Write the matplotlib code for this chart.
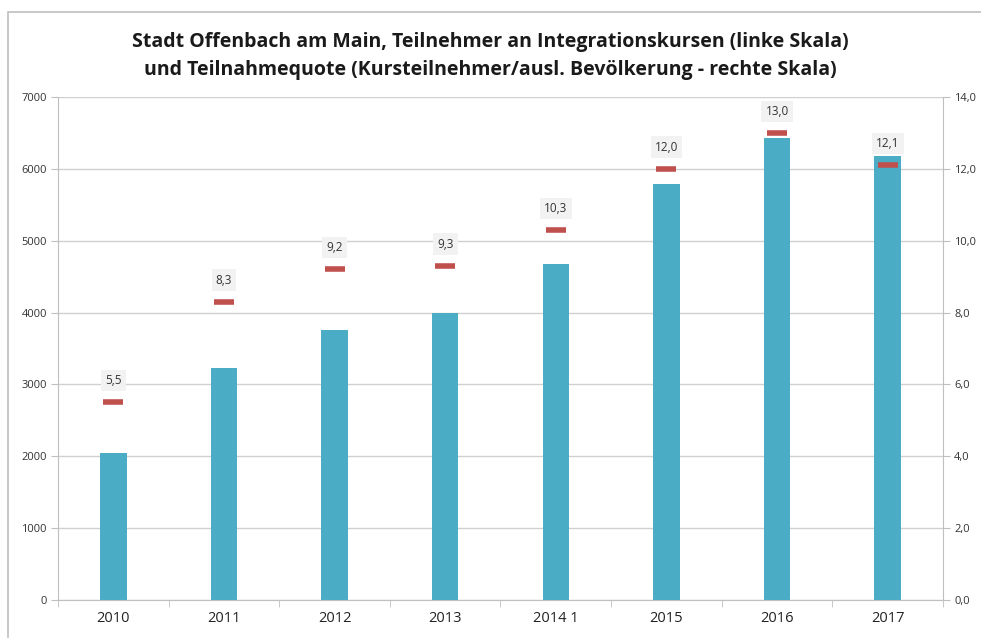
import matplotlib
matplotlib.use("Agg")
import matplotlib.pyplot as plt
from matplotlib.patches import Rectangle
from matplotlib.ticker import FixedLocator, FuncFormatter

categories = ["2010", "2011", "2012", "2013", "2014 1", "2015", "2016", "2017"]
participants = [2040, 3230, 3755, 3995, 4675, 5790, 6430, 6180]
quota = [5.5, 8.3, 9.2, 9.3, 10.3, 12.0, 13.0, 12.1]

plt.rcParams['font.family'] = ['Open Sans', 'DejaVu Sans']

fig = plt.figure(figsize=(9.81, 6.38), dpi=100)
fig.patches.append(Rectangle((8/981, -0.01), 1.0, 1 - 12/638 + 0.01, transform=fig.transFigure,
                             fill=False, edgecolor='#bfbfbf', linewidth=1.2))

ax = fig.add_axes([58/981, 1 - 600/638, (943 - 58)/981, (600 - 97)/638])
x = list(range(len(categories)))
ax.bar(x, participants, width=0.24, color='#4bacc6', zorder=3)
ax.set_xlim(-0.5, len(categories) - 0.5)
ax.set_ylim(0, 7000)
ax.set_yticks(range(0, 7001, 1000))
ax.grid(axis='y', color='#d0d0d0', linewidth=1, zorder=0)
ax.set_axisbelow(True)
for s in ['top', 'right']:
    ax.spines[s].set_visible(False)
ax.spines['left'].set_color('#bfbfbf')
ax.spines['bottom'].set_color('#bfbfbf')
ax.set_xticks(x)
ax.set_xticklabels(categories, fontsize=10.5, color='#222222')
ax.tick_params(axis='x', length=0, pad=8)
ax.xaxis.set_minor_locator(FixedLocator([i + 0.5 for i in range(-1, len(categories))]))
ax.tick_params(axis='x', which='minor', length=5, color='#bfbfbf')
ax.tick_params(axis='y', labelsize=8, colors='#bfbfbf', labelcolor='#333333', length=5, pad=3)

ax2 = ax.twinx()
ax2.set_ylim(0, 14)
ax2.set_yticks([0, 2, 4, 6, 8, 10, 12, 14])
ax2.yaxis.set_major_formatter(FuncFormatter(lambda v, p: f"{v:.1f}".replace('.', ',')))
ax2.tick_params(axis='y', labelsize=8, colors='#bfbfbf', labelcolor='#333333', length=5, pad=3)
for s in ['top', 'left', 'bottom']:
    ax2.spines[s].set_visible(False)
ax2.spines['right'].set_color('#bfbfbf')
ax2.plot(x, quota, linestyle='none', marker='_', markersize=15, markeredgewidth=4,
         color='#c0504d', zorder=4)
for xi, q in zip(x, quota):
    ax2.annotate(f"{q:.1f}".replace('.', ','), (xi, q), xytext=(0, 11), textcoords='offset points',
                 ha='center', va='bottom', fontsize=8.5, color='#333333',
                 bbox=dict(boxstyle='square,pad=0.35', facecolor='#f2f2f2', edgecolor='none'))

fig.text(0.5, 1 - 42/638, "Stadt Offenbach am Main, Teilnehmer an Integrationskursen (linke Skala)",
         ha='center', va='center', fontsize=14, fontweight='bold', color='#1a1a1a')
fig.text(0.5, 1 - 70/638, "und Teilnahmequote (Kursteilnehmer/ausl. Bevölkerung - rechte Skala)",
         ha='center', va='center', fontsize=14, fontweight='bold', color='#1a1a1a')

fig.savefig("out.png", dpi=100)
